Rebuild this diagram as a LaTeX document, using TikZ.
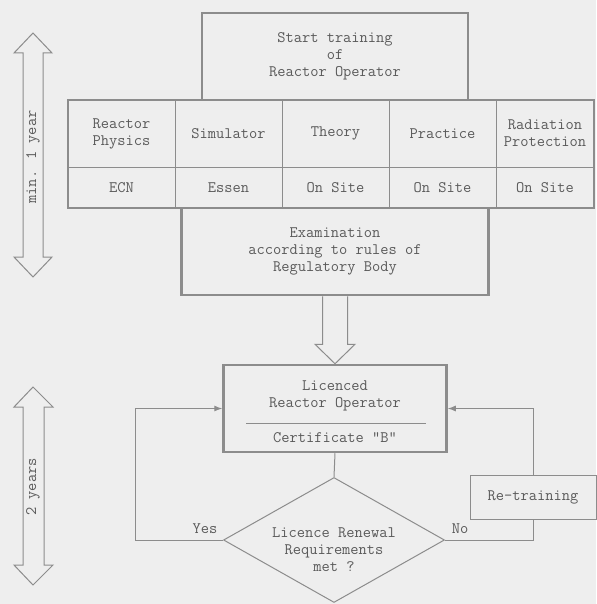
\documentclass[tikz,border=0pt]{standalone}
\usepackage{fontspec}
\usetikzlibrary{shapes.geometric,arrows.meta,calc}
\definecolor{bg}{HTML}{EEEEEE}
\definecolor{ln}{HTML}{8C8C8C}
\definecolor{tx}{HTML}{5A5A5A}
\begin{document}
\begin{tikzpicture}[x=1pt,y=-1pt,
  font=\fontsize{16}{17}\selectfont\ttfamily, text=tx,
  thickbox/.style={draw=ln, line width=2.5pt, rectangle, inner sep=0pt, align=center},
  cellbox/.style={draw=ln, line width=0.9pt, rectangle, inner sep=0pt, align=center},
  thinbox/.style={draw=ln, line width=1pt, rectangle, inner sep=0pt, align=center},
  conn/.style={draw=ln, line width=1pt},
  arr/.style={conn, -{Latex[length=8pt,width=6pt]}},
  hollow/.style={draw=ln, line width=1pt, fill=bg},
  lbl/.style={inner sep=0pt, align=center}]
\fill[bg] (0,0) rectangle (596,604);
\useasboundingbox (0,0) rectangle (596,604);

% start
\node[thickbox, minimum width=266pt, minimum height=87pt] (start) at (335,56.5) {Start training\\of\\Reactor Operator};

% table cells
\node[cellbox, minimum width=107pt, minimum height=67pt] (c11) at (121.5,133.5) {Reactor\\Physics};
\node[cellbox, minimum width=107pt, minimum height=67pt] (c12) at (228.5,133.5) {Simulator};
\node[cellbox, minimum width=107pt, minimum height=67pt] (c13) at (335.5,133.5) {Theory};
\node[cellbox, minimum width=107pt, minimum height=67pt] (c14) at (442.5,133.5) {Practice};
\node[cellbox, minimum width=98pt, minimum height=67pt] (c15) at (545,133.5) {Radiation\\Protection};
\node[cellbox, minimum width=107pt, minimum height=41pt] (c21) at (121.5,187.5) {ECN};
\node[cellbox, minimum width=107pt, minimum height=41pt] (c22) at (228.5,187.5) {Essen};
\node[cellbox, minimum width=107pt, minimum height=41pt] (c23) at (335.5,187.5) {On Site};
\node[cellbox, minimum width=107pt, minimum height=41pt] (c24) at (442.5,187.5) {On Site};
\node[cellbox, minimum width=98pt, minimum height=41pt] (c25) at (545,187.5) {On Site};
\node[thickbox, minimum width=526pt, minimum height=108pt] (table) at (331,154) {};

% exam
\node[thickbox, minimum width=307pt, minimum height=87pt] (exam) at (335,251.5) {Examination\\according to rules of\\Regulatory Body};

% licenced
\node[thickbox, minimum width=223pt, minimum height=87pt] (lic) at (335,408.5) {};
\node[lbl] (lic1) at (335,396) {Licenced\\Reactor Operator};
\node[lbl] (lic2) at (335,437.5) {Certificate "B"};
\draw[conn] ($(lic.west)+(24,14.5)$) -- ($(lic.east)+(-22,14.5)$);

% hollow arrow exam -> lic
\draw[hollow] ($(exam.south)+(-12.5,0)$) -- ++(0,48) -- ++(-7.5,0) -- (lic.north)
  -- ($(exam.south)+(20,48)$) -- ++(-7.5,0) -- ($(exam.south)+(12.5,0)$);

% diamond
\node[diamond, draw=ln, line width=1pt, minimum width=221pt, minimum height=125pt, inner sep=0pt] (dia) at (334,540) {};
\node[lbl] (dtext) at (334,550) {Licence Renewal\\Requirements\\met ?};
\draw[conn] (lic.south) -- (dia.north);

% retraining
\node[thinbox, minimum width=126pt, minimum height=44pt] (retrain) at (533,497) {Re-training};

% loops
\coordinate (yesc) at (135,540);
\draw[arr] (dia.west) -- (yesc) |- (lic.west);
\draw[conn] (dia.east) -| (retrain.south);
\draw[arr] (retrain.north) |- (lic.east);
\node[lbl] (yes) at (205,529) {Yes};
\node[lbl] (no) at (460,529) {No};

% left duration arrows
\draw[hollow] (33,33) -- (52,53) -- (43,53) -- (43,257) -- (52,257) -- (33,277)
  -- (14,257) -- (23,257) -- (23,53) -- (14,53) -- cycle;
\node[lbl, rotate=90] (t1) at (33,157) {min. 1 year};
\draw[hollow] (33,387) -- (53,407) -- (44,407) -- (44,565) -- (53,565) -- (33,585)
  -- (14,565) -- (23,565) -- (23,407) -- (14,407) -- cycle;
\node[lbl, rotate=90] (t2) at (33,487) {2 years};
\end{tikzpicture}
\end{document}
